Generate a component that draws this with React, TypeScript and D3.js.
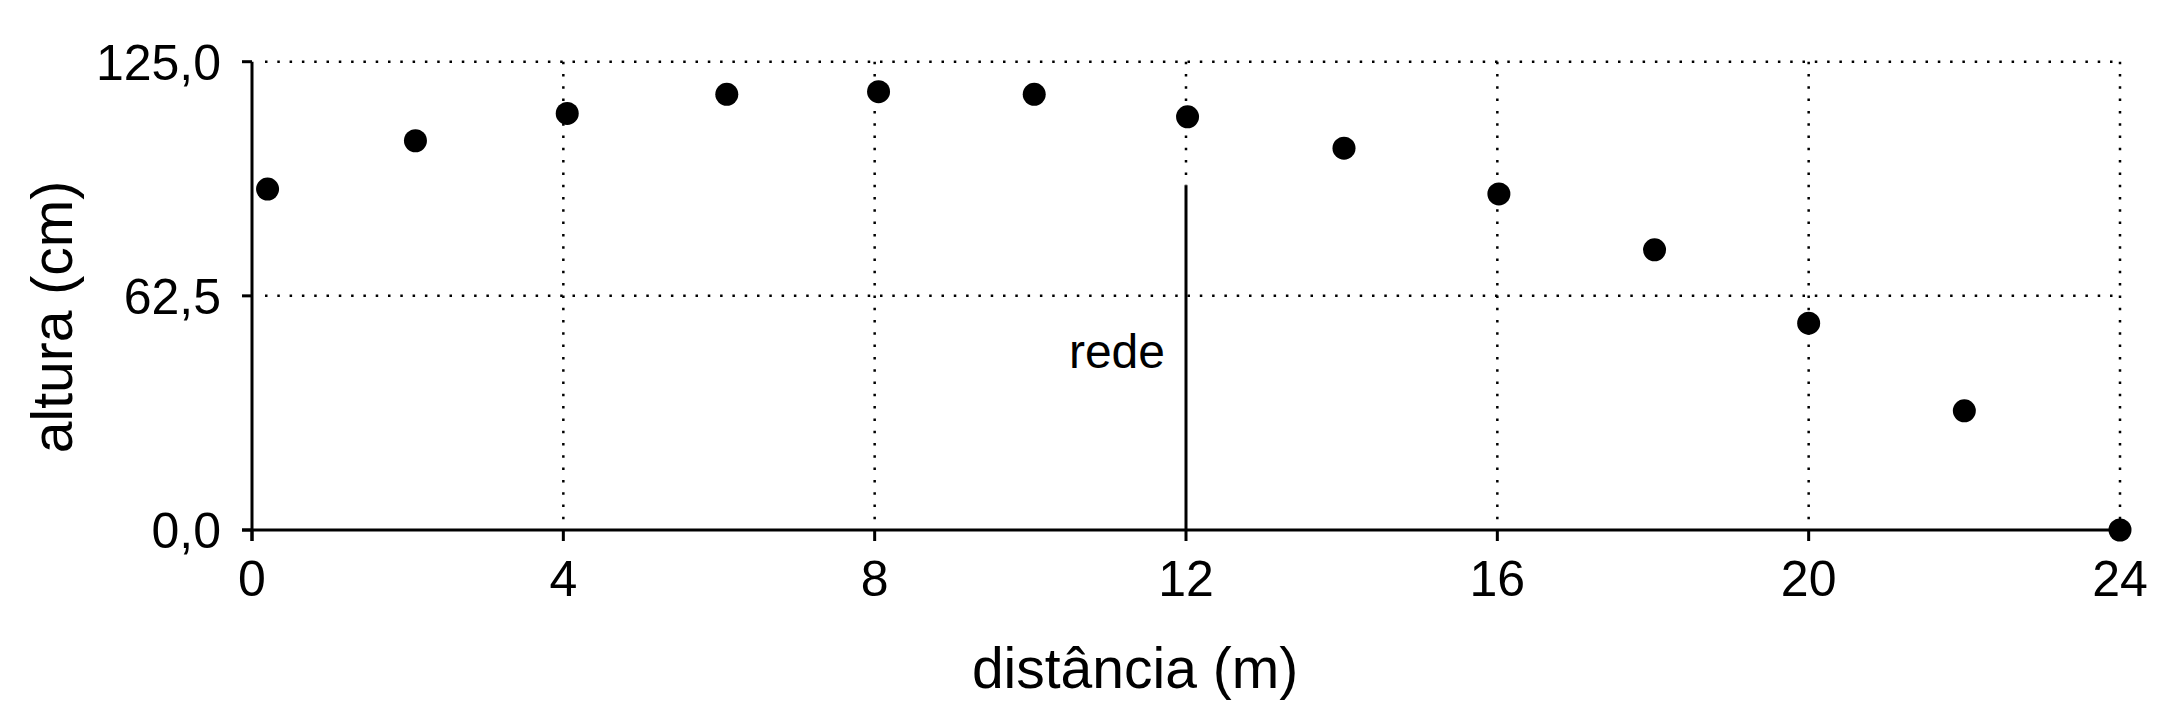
import { useEffect, useRef } from 'react';
import * as d3 from 'd3';

// distância (m) e altura (cm)
const distancia = [0.2, 2.1, 4.05, 6.1, 8.05, 10.05, 12.02, 14.03, 16.02, 18.02, 20, 22, 24];
const altura = [91, 103.9, 111.2, 116.3, 117, 116.3, 110.3, 101.9, 89.7, 74.8, 55.2, 31.8, 0];

const xTicks = [0, 4, 8, 12, 16, 20, 24];
const yTicks = [0, 62.5, 125];

const redeX = 12;
const redeAltura = 92;

const W = 2172;
const H = 724;
const FONT = '"Liberation Sans", Arial, Helvetica, sans-serif';

const App = () => {
  const ref = useRef<SVGSVGElement | null>(null);

  useEffect(() => {
    if (!ref.current) return;
    const svg = d3.select(ref.current);
    svg.selectAll('*').remove();

    const x = d3.scaleLinear().domain([0, 24]).range([252, 2120]);
    const y = d3.scaleLinear().domain([0, 125]).range([530, 61.7]);

    const dots = '2.5 9.8';

    // grade pontilhada horizontal
    svg.append('g')
      .selectAll('line')
      .data(yTicks.filter(d => d > 0))
      .enter()
      .append('line')
      .attr('x1', x(0) + 13)
      .attr('x2', x(24))
      .attr('y1', d => y(d))
      .attr('y2', d => y(d))
      .attr('stroke', '#000')
      .attr('stroke-width', 2.5)
      .attr('stroke-dasharray', dots);

    // grade pontilhada vertical
    svg.append('g')
      .selectAll('line')
      .data(xTicks.filter(d => d > 0))
      .enter()
      .append('line')
      .attr('x1', d => x(d))
      .attr('x2', d => x(d))
      .attr('y1', y(125))
      .attr('y2', d => (d === redeX ? y(redeAltura) : y(0)))
      .attr('stroke', '#000')
      .attr('stroke-width', 2.5)
      .attr('stroke-dasharray', dots);

    // eixos
    svg.append('line')
      .attr('x1', x(0) - 10).attr('x2', x(24))
      .attr('y1', y(0)).attr('y2', y(0))
      .attr('stroke', '#000').attr('stroke-width', 3);
    svg.append('line')
      .attr('x1', x(0)).attr('x2', x(0))
      .attr('y1', y(0) + 11).attr('y2', y(125))
      .attr('stroke', '#000').attr('stroke-width', 3);

    // marcas
    svg.append('g')
      .selectAll('line')
      .data(yTicks)
      .enter()
      .append('line')
      .attr('x1', x(0) - 10).attr('x2', x(0))
      .attr('y1', d => y(d)).attr('y2', d => y(d))
      .attr('stroke', '#000').attr('stroke-width', 3);
    svg.append('g')
      .selectAll('line')
      .data(xTicks)
      .enter()
      .append('line')
      .attr('x1', d => x(d)).attr('x2', d => x(d))
      .attr('y1', y(0)).attr('y2', y(0) + 11)
      .attr('stroke', '#000').attr('stroke-width', 3);

    // rótulos dos eixos
    svg.append('g')
      .selectAll('text')
      .data(yTicks)
      .enter()
      .append('text')
      .attr('x', 221)
      .attr('y', d => y(d) + 18)
      .attr('text-anchor', 'end')
      .style('font-family', FONT)
      .style('font-size', '50px')
      .text(d => d.toFixed(1).replace('.', ','));

    svg.append('g')
      .selectAll('text')
      .data(xTicks)
      .enter()
      .append('text')
      .attr('x', d => x(d))
      .attr('y', 596)
      .attr('text-anchor', 'middle')
      .style('font-family', FONT)
      .style('font-size', '50px')
      .text(d => String(d));

    // rede
    svg.append('line')
      .attr('x1', x(redeX)).attr('x2', x(redeX))
      .attr('y1', y(0)).attr('y2', y(redeAltura))
      .attr('stroke', '#000').attr('stroke-width', 3);
    svg.append('text')
      .attr('x', x(redeX) - 21)
      .attr('y', 368)
      .attr('text-anchor', 'end')
      .style('font-family', FONT)
      .style('font-size', '48px')
      .text('rede');

    // pontos
    svg.append('g')
      .selectAll('circle')
      .data(distancia.map((d, i) => ({ d, h: altura[i] })))
      .enter()
      .append('circle')
      .attr('cx', p => x(p.d))
      .attr('cy', p => y(p.h))
      .attr('r', 11.5)
      .attr('fill', '#000');

    // títulos
    svg.append('text')
      .attr('x', 1135)
      .attr('y', 688)
      .attr('text-anchor', 'middle')
      .style('font-family', FONT)
      .style('font-size', '57px')
      .text('distância (m)');

    svg.append('text')
      .attr('transform', 'translate(72, 317) rotate(-90)')
      .attr('text-anchor', 'middle')
      .style('font-family', FONT)
      .style('font-size', '57px')
      .text('altura (cm)');
  }, []);

  return (
    <div style={{ position: 'absolute', top: 0, left: 0, width: W, height: H, background: '#fff' }}>
      <svg ref={ref} width={W} height={H}></svg>
    </div>
  );
};

export default App;
